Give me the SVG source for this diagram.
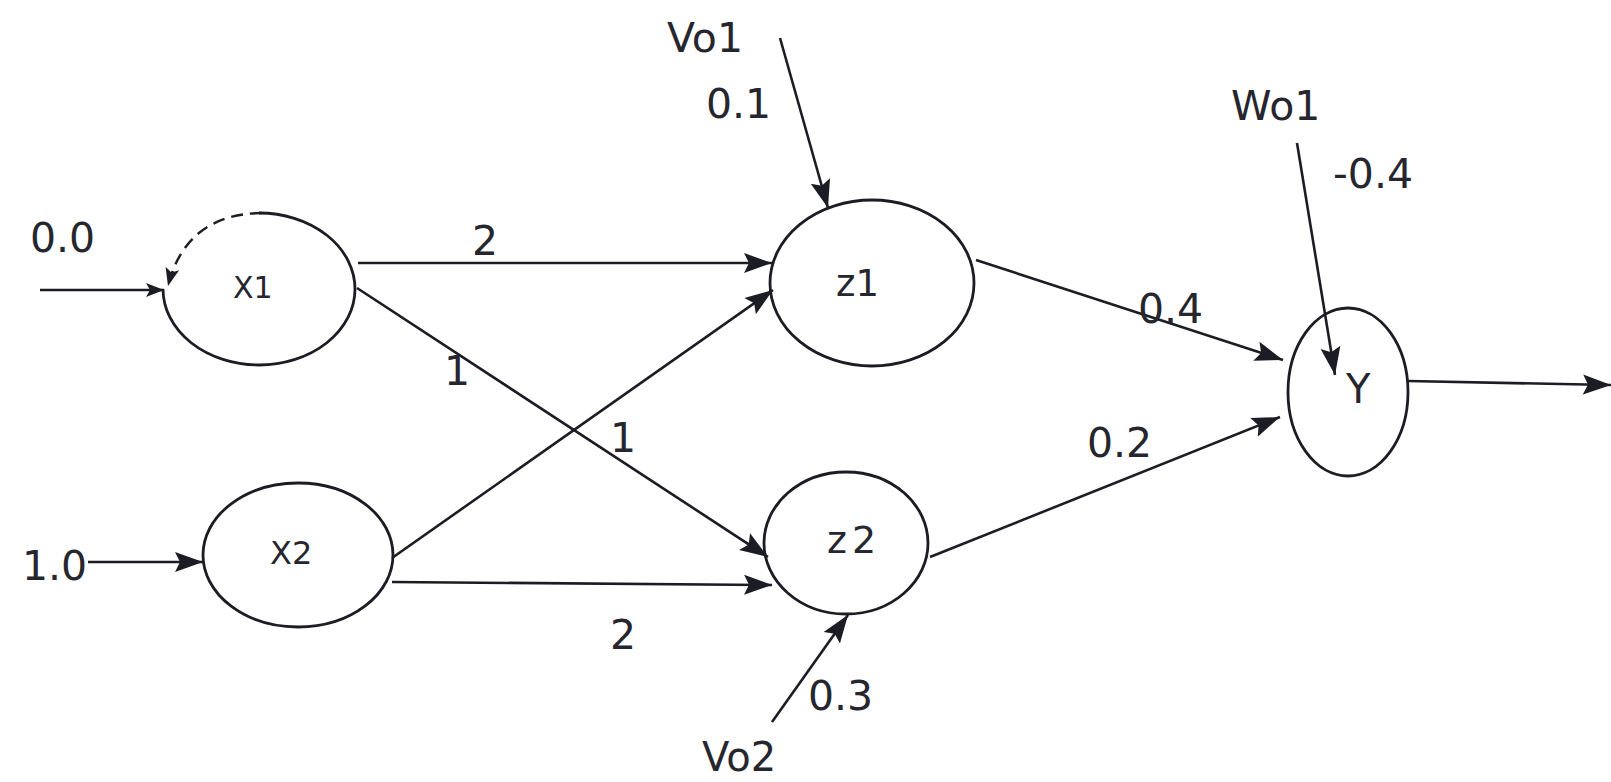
<svg xmlns="http://www.w3.org/2000/svg" width="1611" height="782" viewBox="0 0 1611 782">
<style>
.node{fill:none;stroke:#1c1c24;stroke-width:2.8}
.edge{fill:none;stroke:#1c1c24;stroke-width:2.6}
.dash{fill:none;stroke:#1c1c24;stroke-width:2.4;stroke-dasharray:12 7}
text{font-family:"DejaVu Sans",Verdana,sans-serif;fill:#26262e}
.lbl{font-size:41px}
.nl{font-size:31px}
</style>
<defs>
<marker id="ah" markerUnits="userSpaceOnUse" markerWidth="30" markerHeight="22" refX="28" refY="11" orient="auto">
<path d="M0,1 L28,11 L0,21 L5,11 Z" fill="#1c1c24"/>
</marker>
<marker id="ahs" markerUnits="userSpaceOnUse" markerWidth="20" markerHeight="16" refX="18" refY="8" orient="auto">
<path d="M0,1 L18,8 L0,15 L4,8 Z" fill="#1c1c24"/>
</marker>
</defs>
<rect width="1611" height="782" fill="#ffffff"/>
<g id="connectors">
<line class="edge" x1="40" y1="290" x2="164" y2="290" marker-end="url(#ahs)"/>
<path class="dash" d="M262,213 Q186,214 168,286" marker-end="url(#ahs)"/>
<line class="edge" x1="88" y1="562" x2="203" y2="562" marker-end="url(#ah)"/>
<line class="edge" x1="358" y1="263" x2="772" y2="263" marker-end="url(#ah)"/>
<line class="edge" x1="357" y1="288" x2="768" y2="557" marker-end="url(#ah)"/>
<line class="edge" x1="392" y1="558" x2="773" y2="290" marker-end="url(#ah)"/>
<line class="edge" x1="392" y1="582" x2="772" y2="585" marker-end="url(#ah)"/>
<line class="edge" x1="780" y1="38" x2="828" y2="208" marker-end="url(#ah)"/>
<line class="edge" x1="772" y1="722" x2="848" y2="615" marker-end="url(#ah)"/>
<line class="edge" x1="976" y1="260" x2="1283" y2="360" marker-end="url(#ah)"/>
<line class="edge" x1="930" y1="557" x2="1280" y2="417" marker-end="url(#ah)"/>
<line class="edge" x1="1297" y1="143" x2="1335" y2="375" marker-end="url(#ah)"/>
<line class="edge" x1="1408" y1="381" x2="1611" y2="385" marker-end="url(#ah)"/>
<text class="lbl" x="30" y="252">0.0</text>
<text class="lbl" x="22" y="580">1.0</text>
<text class="lbl" x="472" y="255">2</text>
<text class="lbl" x="444" y="385">1</text>
<text class="lbl" x="610" y="452">1</text>
<text class="lbl" x="610" y="649">2</text>
<text class="lbl" x="667" y="52">Vo1</text>
<text class="lbl" x="706" y="118">0.1</text>
<text class="lbl" x="808" y="710">0.3</text>
<text class="lbl" x="702" y="771" style="font-size:40px">Vo2</text>
<text class="lbl" x="1138" y="323">0.4</text>
<text class="lbl" x="1087" y="457">0.2</text>
<text class="lbl" x="1231" y="120">Wo1</text>
<text class="lbl" x="1333" y="188">-0.4</text>
</g>
<g id="x1">
<path class="node" d="M259,213 A96,76 0 1 1 163,289"/>
<text class="nl" x="233" y="298" style="font-size:30px">X1</text>
</g>
<g id="x2">
<ellipse class="node" cx="298" cy="555" rx="95" ry="72"/>
<text class="nl" x="270" y="564" style="font-size:32px">X2</text>
</g>
<g id="z1">
<ellipse class="node" cx="872" cy="283" rx="102" ry="83"/>
<text class="nl" x="836" y="296" style="font-size:37px">z1</text>
</g>
<g id="z2">
<ellipse class="node" cx="846" cy="543" rx="82" ry="71"/>
<text class="nl" x="827" y="553" style="font-size:38px;letter-spacing:5px">z2</text>
</g>
<g id="y">
<ellipse class="node" cx="1348" cy="392" rx="60" ry="84"/>
<text class="nl" x="1346" y="403" style="font-size:40px">Y</text>
</g>
</svg>
